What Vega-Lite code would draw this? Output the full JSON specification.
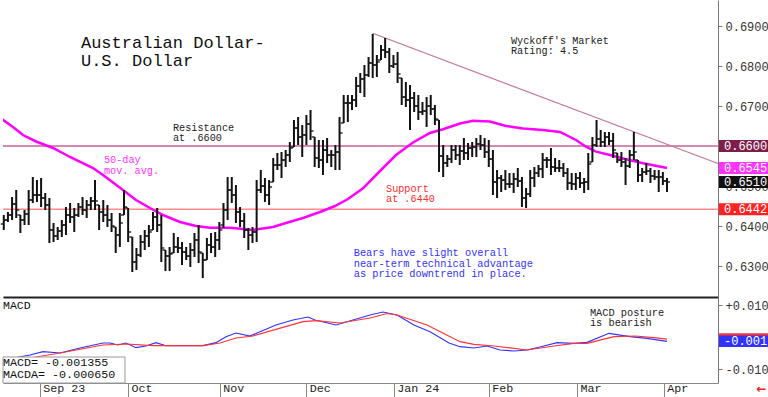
{
"$schema":"https://vega.github.io/schema/vega-lite/v6.json",
"padding":0,"spacing":0,"background":"white",
"config":{"view":{"stroke":null},"font":"Liberation Mono","axis":{"labelFont":"Liberation Mono","grid":false,"title":null,"labelOverlap":false,"labelFlush":false,"labelBound":false},"text":{"font":"Liberation Mono"}},
"datasets":{
"bars":[
{"i":0,"h":0.64275,"l":0.639,"o":0.6405,"c":0.6415},{"i":1,"h":0.6435,"l":0.641,"o":0.6415,"c":0.64275},{"i":2,"h":0.64725,"l":0.6415,"o":0.64275,"c":0.6455},{"i":3,"h":0.649,"l":0.642,"o":0.6455,"c":0.644},{"i":4,"h":0.64275,"l":0.63825,"o":0.64275,"c":0.6415},{"i":5,"h":0.644,"l":0.64025,"o":0.6415,"c":0.643},{"i":6,"h":0.649,"l":0.64025,"o":0.643,"c":0.6465},{"i":7,"h":0.65225,"l":0.64575,"o":0.6465,"c":0.64775},{"i":8,"h":0.6515,"l":0.646,"o":0.64775,"c":0.64775},{"i":9,"h":0.652,"l":0.64475,"o":0.64775,"c":0.647},
{"i":10,"h":0.64825,"l":0.644,"o":0.647,"c":0.64525},{"i":11,"h":0.647,"l":0.63575,"o":0.64525,"c":0.639},{"i":12,"h":0.64075,"l":0.636,"o":0.639,"c":0.6375},{"i":13,"h":0.63975,"l":0.6365,"o":0.6375,"c":0.63875},{"i":14,"h":0.6415,"l":0.63725,"o":0.63875,"c":0.64025},{"i":15,"h":0.64475,"l":0.63775,"o":0.64025,"c":0.64275},{"i":16,"h":0.64575,"l":0.64075,"o":0.64275,"c":0.64225},{"i":17,"h":0.6445,"l":0.6385,"o":0.64225,"c":0.64275},{"i":18,"h":0.64575,"l":0.64225,"o":0.64275,"c":0.64475},{"i":19,"h":0.64725,"l":0.64275,"o":0.64475,"c":0.644},
{"i":20,"h":0.6465,"l":0.642,"o":0.644,"c":0.64525},{"i":21,"h":0.64725,"l":0.644,"o":0.64525,"c":0.64625},{"i":22,"h":0.6515,"l":0.644,"o":0.64625,"c":0.64625},{"i":23,"h":0.64525,"l":0.639,"o":0.64525,"c":0.6435},{"i":24,"h":0.6465,"l":0.641,"o":0.6435,"c":0.64275},{"i":25,"h":0.64525,"l":0.63975,"o":0.64275,"c":0.6415},{"i":26,"h":0.64325,"l":0.6385,"o":0.6415,"c":0.64},{"i":27,"h":0.63975,"l":0.63325,"o":0.63975,"c":0.63775},{"i":28,"h":0.64325,"l":0.63475,"o":0.63775,"c":0.64075},{"i":29,"h":0.649,"l":0.64275,"o":0.64275,"c":0.64475},
{"i":30,"h":0.6445,"l":0.636,"o":0.6445,"c":0.6385},{"i":31,"h":0.63725,"l":0.6285,"o":0.63725,"c":0.631},{"i":32,"h":0.6345,"l":0.629,"o":0.631,"c":0.63275},{"i":33,"h":0.63775,"l":0.63225,"o":0.63275,"c":0.636},{"i":34,"h":0.639,"l":0.634,"o":0.636,"c":0.6375},{"i":35,"h":0.64025,"l":0.63475,"o":0.6375,"c":0.6385},{"i":36,"h":0.6435,"l":0.639,"o":0.639,"c":0.64225},{"i":37,"h":0.6445,"l":0.6385,"o":0.64225,"c":0.64025},{"i":38,"h":0.64275,"l":0.631,"o":0.64025,"c":0.6345},{"i":39,"h":0.634,"l":0.62875,"o":0.634,"c":0.6325},
{"i":40,"h":0.63475,"l":0.62875,"o":0.6325,"c":0.633},{"i":41,"h":0.63825,"l":0.63325,"o":0.63325,"c":0.63475},{"i":42,"h":0.63725,"l":0.63325,"o":0.63475,"c":0.6345},{"i":43,"h":0.636,"l":0.63025,"o":0.6345,"c":0.6335},{"i":44,"h":0.63475,"l":0.6315,"o":0.6335,"c":0.6325},{"i":45,"h":0.63575,"l":0.62975,"o":0.6325,"c":0.634},{"i":46,"h":0.63825,"l":0.63225,"o":0.634,"c":0.6365},{"i":47,"h":0.64025,"l":0.63075,"o":0.6365,"c":0.6335},{"i":48,"h":0.63325,"l":0.627,"o":0.63325,"c":0.6315},{"i":49,"h":0.637,"l":0.6315,"o":0.6315,"c":0.63525},
{"i":50,"h":0.63825,"l":0.63325,"o":0.63525,"c":0.63475},{"i":51,"h":0.6385,"l":0.63225,"o":0.63475,"c":0.6365},{"i":52,"h":0.641,"l":0.634,"o":0.6365,"c":0.639},{"i":53,"h":0.64575,"l":0.6395,"o":0.64025,"c":0.644},{"i":54,"h":0.65225,"l":0.6415,"o":0.644,"c":0.649},{"i":55,"h":0.65225,"l":0.64575,"o":0.649,"c":0.64775},{"i":56,"h":0.65025,"l":0.64075,"o":0.64775,"c":0.6435},{"i":57,"h":0.64475,"l":0.63975,"o":0.6435,"c":0.64125},{"i":58,"h":0.64325,"l":0.637,"o":0.64125,"c":0.639},{"i":59,"h":0.6395,"l":0.634,"o":0.639,"c":0.63775},
{"i":60,"h":0.63975,"l":0.63575,"o":0.63775,"c":0.6385},{"i":61,"h":0.6515,"l":0.636,"o":0.6385,"c":0.649},{"i":62,"h":0.654,"l":0.64825,"o":0.649,"c":0.65},{"i":63,"h":0.652,"l":0.646,"o":0.65,"c":0.64775},{"i":64,"h":0.6515,"l":0.64525,"o":0.64775,"c":0.64975},{"i":65,"h":0.657,"l":0.651,"o":0.651,"c":0.65525},{"i":66,"h":0.65825,"l":0.654,"o":0.65525,"c":0.65525},{"i":67,"h":0.6585,"l":0.652,"o":0.65525,"c":0.6565},{"i":68,"h":0.659,"l":0.65475,"o":0.6565,"c":0.65775},{"i":69,"h":0.661,"l":0.656,"o":0.65775,"c":0.6595},
{"i":70,"h":0.6665,"l":0.65975,"o":0.65975,"c":0.6645},{"i":71,"h":0.66725,"l":0.66025,"o":0.6645,"c":0.66225},{"i":72,"h":0.66525,"l":0.65725,"o":0.66225,"c":0.66275},{"i":73,"h":0.66775,"l":0.66025,"o":0.66275,"c":0.6655},{"i":74,"h":0.669,"l":0.6615,"o":0.6655,"c":0.66375},{"i":75,"h":0.66225,"l":0.65475,"o":0.66225,"c":0.657},{"i":76,"h":0.6615,"l":0.6545,"o":0.657,"c":0.6565},{"i":77,"h":0.6615,"l":0.65275,"o":0.6565,"c":0.659},{"i":78,"h":0.662,"l":0.65575,"o":0.659,"c":0.65775},{"i":79,"h":0.659,"l":0.65475,"o":0.65775,"c":0.65775},
{"i":80,"h":0.66025,"l":0.654,"o":0.65775,"c":0.6585},{"i":81,"h":0.66725,"l":0.654,"o":0.6585,"c":0.66325},{"i":82,"h":0.67275,"l":0.66575,"o":0.66575,"c":0.67075},{"i":83,"h":0.67275,"l":0.666,"o":0.67075,"c":0.67075},{"i":84,"h":0.67275,"l":0.669,"o":0.67075,"c":0.6715},{"i":85,"h":0.67725,"l":0.66975,"o":0.6715,"c":0.675},{"i":86,"h":0.67825,"l":0.67325,"o":0.675,"c":0.67675},{"i":87,"h":0.68025,"l":0.67225,"o":0.67675,"c":0.67775},{"i":88,"h":0.68225,"l":0.67725,"o":0.67775,"c":0.68075},{"i":89,"h":0.688,"l":0.677,"o":0.68075,"c":0.68025},
{"i":90,"h":0.68275,"l":0.67725,"o":0.68025,"c":0.681},{"i":91,"h":0.68525,"l":0.6815,"o":0.6815,"c":0.684},{"i":92,"h":0.687,"l":0.682,"o":0.684,"c":0.6835},{"i":93,"h":0.6845,"l":0.67825,"o":0.6835,"c":0.68},{"i":94,"h":0.68275,"l":0.6795,"o":0.68,"c":0.6805},{"i":95,"h":0.6835,"l":0.67575,"o":0.6805,"c":0.678},{"i":96,"h":0.677,"l":0.67025,"o":0.677,"c":0.67225},{"i":97,"h":0.676,"l":0.66975,"o":0.67225,"c":0.6715},{"i":98,"h":0.67525,"l":0.664,"o":0.6715,"c":0.672},{"i":99,"h":0.6735,"l":0.6685,"o":0.672,"c":0.67},
{"i":100,"h":0.67275,"l":0.6665,"o":0.67,"c":0.6685},{"i":101,"h":0.671,"l":0.66775,"o":0.6685,"c":0.66875},{"i":102,"h":0.67225,"l":0.66475,"o":0.66875,"c":0.67},{"i":103,"h":0.67275,"l":0.66775,"o":0.67,"c":0.66925},{"i":104,"h":0.67025,"l":0.66525,"o":0.66925,"c":0.66675},{"i":105,"h":0.6665,"l":0.6535,"o":0.6665,"c":0.6575},{"i":106,"h":0.66025,"l":0.65225,"o":0.6575,"c":0.65575},{"i":107,"h":0.65775,"l":0.65475,"o":0.65575,"c":0.65675},{"i":108,"h":0.66025,"l":0.65575,"o":0.65675,"c":0.659},{"i":109,"h":0.66025,"l":0.6565,"o":0.659,"c":0.65775},
{"i":110,"h":0.66025,"l":0.65525,"o":0.65775,"c":0.65875},{"i":111,"h":0.662,"l":0.6565,"o":0.65875,"c":0.65825},{"i":112,"h":0.66075,"l":0.6565,"o":0.65825,"c":0.6595},{"i":113,"h":0.661,"l":0.65725,"o":0.6595,"c":0.65975},{"i":114,"h":0.662,"l":0.65725,"o":0.65975,"c":0.6605},{"i":115,"h":0.66275,"l":0.659,"o":0.6605,"c":0.66025},{"i":116,"h":0.662,"l":0.657,"o":0.66025,"c":0.6585},{"i":117,"h":0.6615,"l":0.65475,"o":0.6585,"c":0.65675},{"i":118,"h":0.659,"l":0.64775,"o":0.65675,"c":0.651},{"i":119,"h":0.654,"l":0.647,"o":0.651,"c":0.652},
{"i":120,"h":0.65275,"l":0.6485,"o":0.652,"c":0.6515},{"i":121,"h":0.654,"l":0.649,"o":0.6515,"c":0.6505},{"i":122,"h":0.65325,"l":0.6495,"o":0.6505,"c":0.6505},{"i":123,"h":0.65325,"l":0.64825,"o":0.6505,"c":0.65175},{"i":124,"h":0.6545,"l":0.64975,"o":0.65175,"c":0.65125},{"i":125,"h":0.65225,"l":0.64475,"o":0.65125,"c":0.647},{"i":126,"h":0.6495,"l":0.6445,"o":0.647,"c":0.648},{"i":127,"h":0.654,"l":0.64725,"o":0.648,"c":0.652},{"i":128,"h":0.65475,"l":0.64975,"o":0.652,"c":0.65325},{"i":129,"h":0.65525,"l":0.65225,"o":0.65325,"c":0.65425},
{"i":130,"h":0.65825,"l":0.652,"o":0.65425,"c":0.6565},{"i":131,"h":0.65725,"l":0.6545,"o":0.6565,"c":0.6565},{"i":132,"h":0.6595,"l":0.65275,"o":0.6565,"c":0.65475},{"i":133,"h":0.657,"l":0.6535,"o":0.65475,"c":0.6545},{"i":134,"h":0.6565,"l":0.6535,"o":0.6545,"c":0.6545},{"i":135,"h":0.65575,"l":0.65225,"o":0.6545,"c":0.65325},{"i":136,"h":0.6545,"l":0.649,"o":0.65325,"c":0.65075},{"i":137,"h":0.65325,"l":0.649,"o":0.65075,"c":0.6505},{"i":138,"h":0.65325,"l":0.649,"o":0.6505,"c":0.652},{"i":139,"h":0.6535,"l":0.6495,"o":0.652,"c":0.65075},
{"i":140,"h":0.652,"l":0.64825,"o":0.65075,"c":0.651},{"i":141,"h":0.65825,"l":0.649,"o":0.651,"c":0.6555},{"i":142,"h":0.66225,"l":0.656,"o":0.656,"c":0.66025},{"i":143,"h":0.6665,"l":0.65975,"o":0.66025,"c":0.66175},{"i":144,"h":0.664,"l":0.65975,"o":0.66175,"c":0.661},{"i":145,"h":0.6635,"l":0.65975,"o":0.661,"c":0.66225},{"i":146,"h":0.6635,"l":0.66025,"o":0.66225,"c":0.66125},{"i":147,"h":0.66325,"l":0.657,"o":0.66125,"c":0.659},{"i":148,"h":0.65825,"l":0.65575,"o":0.65825,"c":0.6565},{"i":149,"h":0.6585,"l":0.65475,"o":0.6565,"c":0.656},
{"i":150,"h":0.657,"l":0.65025,"o":0.656,"c":0.655},{"i":151,"h":0.659,"l":0.6545,"o":0.655,"c":0.65775},{"i":152,"h":0.6635,"l":0.6565,"o":0.65775,"c":0.6585},{"i":153,"h":0.6565,"l":0.651,"o":0.6565,"c":0.65275},{"i":154,"h":0.6545,"l":0.651,"o":0.65275,"c":0.6535},{"i":155,"h":0.65575,"l":0.65275,"o":0.6535,"c":0.65375},{"i":156,"h":0.6545,"l":0.65075,"o":0.65375,"c":0.6525},{"i":157,"h":0.654,"l":0.6515,"o":0.6525,"c":0.65225},{"i":158,"h":0.654,"l":0.6485,"o":0.65225,"c":0.65225},{"i":159,"h":0.6535,"l":0.65025,"o":0.65225,"c":0.65125},
{"i":160,"h":0.652,"l":0.6485,"o":0.65125,"c":0.651}
],
"ma":[
{"i":-1.5,"p":0.6675},{"i":2.22,"p":0.66475},{"i":4.63,"p":0.66275},{"i":7.77,"p":0.66113},{"i":11.87,"p":0.6595},{"i":15.97,"p":0.65725},{"i":21.52,"p":0.6545},{"i":23.93,"p":0.65275},{"i":28.76,"p":0.649},{"i":31.89,"p":0.6465},{"i":35.27,"p":0.6445},{"i":38.41,"p":0.64275},{"i":42.51,"p":0.641},{"i":46.37,"p":0.64},{"i":49.75,"p":0.63958},{"i":54.57,"p":0.63958},{"i":57.71,"p":0.63925},{"i":60.12,"p":0.639},{"i":64.95,"p":0.63975},{"i":68.08,"p":0.64075},{"i":72.18,"p":0.642},{"i":76.29,"p":0.6435},{"i":79.9,"p":0.645},{"i":83.04,"p":0.64675},{"i":86.66,"p":0.64943},{"i":90.76,"p":0.65375},{"i":94.62,"p":0.65775},{"i":98.72,"p":0.66088},{"i":102.82,"p":0.66325},{"i":105.96,"p":0.66418},{"i":110.06,"p":0.66563},{"i":113.2,"p":0.66633},{"i":117.3,"p":0.66613},{"i":121.16,"p":0.665},{"i":125.26,"p":0.66438},{"i":130.08,"p":0.664},{"i":134.19,"p":0.6635},{"i":138.05,"p":0.6615},{"i":140.46,"p":0.65983},{"i":142.87,"p":0.65858},{"i":146.25,"p":0.65775},{"i":150.11,"p":0.65668},{"i":154.21,"p":0.65568},{"i":160,"p":0.6545}
],
"macd":[
{"s":"MACD","i":-0.19,"v":-0.00719},{"s":"MACD","i":6.32,"v":-0.00563},{"s":"MACD","i":9.46,"v":-0.00459},{"s":"MACD","i":13.56,"v":-0.005},{"s":"MACD","i":18.38,"v":-0.00344},{"s":"MACD","i":23.93,"v":-0.00188},{"s":"MACD","i":25.62,"v":-0.00188},{"s":"MACD","i":27.55,"v":-0.0025},{"s":"MACD","i":29.48,"v":-0.00188},{"s":"MACD","i":31.89,"v":-0.00334},{"s":"MACD","i":34.31,"v":-0.00281},{"s":"MACD","i":36.72,"v":-0.00178},{"s":"MACD","i":39.13,"v":-0.00272},{"s":"MACD","i":43.96,"v":-0.00272},{"s":"MACD","i":48.06,"v":-0.00272},{"s":"MACD","i":51.19,"v":-0.00178},{"s":"MACD","i":53.61,"v":0.00009},{"s":"MACD","i":56.02,"v":0.00125},{"s":"MACD","i":59.4,"v":0.00031},{"s":"MACD","i":61.81,"v":0.00166},{"s":"MACD","i":65.67,"v":0.00375},{"s":"MACD","i":69.77,"v":0.00531},{"s":"MACD","i":73.39,"v":0.00625},{"s":"MACD","i":75.08,"v":0.00531},{"s":"MACD","i":80.14,"v":0.00375},{"s":"MACD","i":84.25,"v":0.00531},{"s":"MACD","i":88.35,"v":0.00688},{"s":"MACD","i":91.48,"v":0.00781},{"s":"MACD","i":94.86,"v":0.00688},{"s":"MACD","i":98.96,"v":0.00375},{"s":"MACD","i":102.82,"v":0.00166},{"s":"MACD","i":107.41,"v":-0.00188},{"s":"MACD","i":110.06,"v":-0.00303},{"s":"MACD","i":113.44,"v":-0.00344},{"s":"MACD","i":116.57,"v":-0.00281},{"s":"MACD","i":119.71,"v":-0.00406},{"s":"MACD","i":123.09,"v":-0.00438},{"s":"MACD","i":126.22,"v":-0.00406},{"s":"MACD","i":130.33,"v":-0.00281},{"s":"MACD","i":133.46,"v":-0.00178},{"s":"MACD","i":137.56,"v":-0.00197},{"s":"MACD","i":140.7,"v":-0.00166},{"s":"MACD","i":146.01,"v":0.00116},{"s":"MACD","i":151.07,"v":0.00009},{"s":"MACD","i":155.18,"v":-0.00041},{"s":"MACD","i":160,"v":-0.001355},
{"s":"MACDA","i":-0.19,"v":-0.00781},{"s":"MACDA","i":6.32,"v":-0.00656},{"s":"MACDA","i":13.56,"v":-0.005},{"s":"MACDA","i":23.93,"v":-0.0025},{"s":"MACDA","i":29.48,"v":-0.00219},{"s":"MACDA","i":36,"v":-0.00272},{"s":"MACDA","i":48.06,"v":-0.00272},{"s":"MACDA","i":52.16,"v":-0.00188},{"s":"MACDA","i":56.02,"v":-0.00031},{"s":"MACDA","i":60.12,"v":0.00031},{"s":"MACDA","i":72.18,"v":0.00478},{"s":"MACDA","i":75.32,"v":0.00509},{"s":"MACDA","i":81.11,"v":0.00438},{"s":"MACDA","i":88.35,"v":0.00594},{"s":"MACDA","i":92.45,"v":0.00734},{"s":"MACDA","i":94.86,"v":0.00688},{"s":"MACDA","i":102.1,"v":0.00375},{"s":"MACDA","i":110.06,"v":-0.00147},{"s":"MACDA","i":113.44,"v":-0.00228},{"s":"MACDA","i":118.26,"v":-0.00281},{"s":"MACDA","i":126.22,"v":-0.00406},{"s":"MACDA","i":132.74,"v":-0.00281},{"s":"MACDA","i":137.56,"v":-0.00197},{"s":"MACDA","i":140.7,"v":-0.00197},{"s":"MACDA","i":147.21,"v":0.00009},{"s":"MACDA","i":152.28,"v":0.00031},{"s":"MACDA","i":156.86,"v":-0.00022},{"s":"MACDA","i":160,"v":-0.00065}
]
},
"vconcat":[
{"width":715,"height":297,
 "resolve":{"scale":{"color":"independent"}},
 "layer":[
  {"data":{"values":[{"name":"resistance","v":0.66},{"name":"support","v":0.6442}]},
   "mark":{"type":"rule","strokeWidth":1.5},
   "encoding":{
    "y":{"field":"v","type":"quantitative","scale":{"domain":[0.62225,0.6965],"zero":false,"nice":false},
      "axis":{"orient":"right","values":[0.63,0.64,0.65,0.66,0.67,0.68,0.69],"format":".4f","tickSize":4,"tickColor":"#777","domainColor":"#777","labelFontSize":12,"labelColor":"#333","labelPadding":3,"labelBaseline":"middle"}},
    "color":{"field":"name","type":"nominal","scale":{"domain":["resistance","support"],"range":["#c8609a","#ff8a8a"]},"legend":null}}},
  {"data":{"values":[{"i":89,"p":0.68818},{"i":172.3,"p":0.65562}]},
   "mark":{"type":"line","strokeWidth":1.2,"color":"#c07898"},
   "encoding":{
    "x":{"field":"i","type":"quantitative","scale":{"domain":[-0.19,172.3],"nice":false,"zero":false},"axis":{"orient":"bottom","labels":false,"ticks":false,"domain":true,"domainColor":"#222","domainWidth":2}},
    "y":{"field":"p","type":"quantitative"}}},
  {"data":{"name":"ma"},
   "mark":{"type":"line","strokeWidth":2.5,"color":"#ff00ff","clip":true},
   "encoding":{"x":{"field":"i","type":"quantitative"},"y":{"field":"p","type":"quantitative"}}},
  {"data":{"name":"bars"},
   "mark":{"type":"rule","strokeWidth":2,"color":"#111"},
   "encoding":{"x":{"field":"i","type":"quantitative"},"y":{"field":"h","type":"quantitative"},"y2":{"field":"l"}}},
  {"data":{"name":"bars"},
   "mark":{"type":"tick","orient":"horizontal","size":3,"thickness":1.3,"xOffset":-1.5,"color":"#111","opacity":1},
   "encoding":{"x":{"field":"i","type":"quantitative"},"y":{"field":"o","type":"quantitative"}}},
  {"data":{"name":"bars"},
   "mark":{"type":"tick","orient":"horizontal","size":3,"thickness":1.3,"xOffset":1.5,"color":"#111","opacity":1},
   "encoding":{"x":{"field":"i","type":"quantitative"},"y":{"field":"c","type":"quantitative"}}},
  {"data":{"values":[{"i":18.62,"p":0.6845,"t":"Australian Dollar-\nU.S. Dollar"}]},
   "mark":{"type":"text","align":"left","baseline":"alphabetic","fontSize":17,"lineHeight":18,"lineBreak":"\n","color":"#111"},
   "encoding":{"x":{"field":"i","type":"quantitative"},"y":{"field":"p","type":"quantitative"},"text":{"field":"t"}}},
  {"data":{"values":[{"i":40.82,"p":0.66375,"t":"Resistance\nat .6600"},{"i":122.36,"p":0.6855,"t":"Wyckoff's Market\nRating: 4.5"}]},
   "mark":{"type":"text","align":"left","baseline":"alphabetic","fontSize":10.2,"lineHeight":10,"lineBreak":"\n","color":"#222"},
   "encoding":{"x":{"field":"i","type":"quantitative"},"y":{"field":"p","type":"quantitative"},"text":{"field":"t"}}},
  {"data":{"values":[{"i":24.17,"p":0.65563,"t":"50-day\nmov. avg."}]},
   "mark":{"type":"text","align":"left","baseline":"alphabetic","fontSize":10.2,"lineHeight":10.5,"lineBreak":"\n","color":"#ff33ff"},
   "encoding":{"x":{"field":"i","type":"quantitative"},"y":{"field":"p","type":"quantitative"},"text":{"field":"t"}}},
  {"data":{"values":[{"i":92.21,"p":0.64838,"t":"Support\nat .6440"}]},
   "mark":{"type":"text","align":"left","baseline":"alphabetic","fontSize":10.2,"lineHeight":10,"lineBreak":"\n","color":"#ff2a2a"},
   "encoding":{"x":{"field":"i","type":"quantitative"},"y":{"field":"p","type":"quantitative"},"text":{"field":"t"}}},
  {"data":{"values":[{"i":84.42,"p":0.6325,"t":"Bears have slight overall\nnear-term technical advantage\nas price downtrend in place."}]},
   "mark":{"type":"text","align":"left","baseline":"alphabetic","fontSize":10.3,"lineHeight":10.5,"lineBreak":"\n","color":"#3333ff"},
   "encoding":{"x":{"field":"i","type":"quantitative"},"y":{"field":"p","type":"quantitative"},"text":{"field":"t"}}},
  {"data":{"values":[{"v":0.66,"lab":"0.6600"},{"v":0.6545,"lab":"0.6545"},{"v":0.651,"lab":"0.6510"},{"v":0.6442,"lab":"0.6442"}]},
   "mark":{"type":"tick","orient":"horizontal","size":52,"thickness":12,"opacity":1},
   "encoding":{"x":{"datum":178.8,"type":"quantitative"},"y":{"field":"v","type":"quantitative"},
     "color":{"field":"lab","type":"nominal","scale":{"domain":["0.6600","0.6545","0.6510","0.6442"],"range":["#7d1f4a","#ff33ff","#111111","#ff2222"]},"legend":null}}},
  {"data":{"values":[{"v":0.66,"lab":"0.6600"},{"v":0.6545,"lab":"0.6545"},{"v":0.651,"lab":"0.6510"},{"v":0.6442,"lab":"0.6442"}]},
   "mark":{"type":"text","align":"left","baseline":"middle","fontSize":12,"color":"white"},
   "encoding":{"x":{"datum":173.75,"type":"quantitative"},"y":{"field":"v","type":"quantitative"},"text":{"field":"lab"}}}
 ]},
{"width":715,"height":86,
 "layer":[
  {"data":{"name":"macd"},
   "mark":{"type":"line","strokeWidth":1.2},
   "encoding":{
    "x":{"field":"i","type":"quantitative","scale":{"domain":[-0.19,172.3],"nice":false,"zero":false},
      "axis":{"orient":"bottom","values":[8.66,29.96,52.09,72.98,94.06,116.98,138.29,159.2],
        "labelExpr":"datum.value < 20 ? 'Sep 23' : datum.value < 40 ? 'Oct' : datum.value < 60 ? 'Nov' : datum.value < 80 ? 'Dec' : datum.value < 100 ? 'Jan 24' : datum.value < 125 ? 'Feb' : datum.value < 145 ? 'Mar' : 'Apr'",
        "tickSize":14,"tickColor":"#888","domainColor":"#888","labelAlign":"left","labelBaseline":"middle","labelPadding":-10,"labelOffset":3,"labelFontSize":11.7,"labelColor":"#222"}},
    "y":{"field":"v","type":"quantitative","scale":{"domain":[-0.014375,0.0125],"zero":false,"nice":false},
      "axis":{"orient":"right","values":[-0.01,-0.005,0,0.005,0.01],"labelExpr":"datum.value > 0.009 ? '+0.010' : datum.value < -0.009 ? '-0.010' : ''","tickSize":4,"tickColor":"#777","domainColor":"#777","labelFontSize":12,"labelColor":"#333","labelPadding":3,"labelBaseline":"middle"}},
    "color":{"field":"s","type":"nominal","scale":{"domain":["MACD","MACDA"],"range":["#3333ff","#ff3333"]},"legend":null}}},
  {"data":{"values":[{}]},
   "mark":{"type":"rect","fill":"white","stroke":"#999","strokeWidth":1},
   "encoding":{"x":{"datum":-0.19,"type":"quantitative"},"x2":{"datum":29.24},"y":{"datum":-0.00625,"type":"quantitative"},"y2":{"datum":-0.014375}}},
  {"data":{"values":[{"i":-0.19,"v":-0.009063,"t":"MACD=  -0.001355\nMACDA= -0.000650"}]},
   "mark":{"type":"text","align":"left","baseline":"alphabetic","fontSize":11.7,"lineHeight":12,"lineBreak":"\n","color":"#111"},
   "encoding":{"x":{"field":"i","type":"quantitative"},"y":{"field":"v","type":"quantitative"},"text":{"field":"t"}}},
  {"data":{"values":[{"i":-0.19,"v":0.00875,"t":"MACD"}]},
   "mark":{"type":"text","align":"left","baseline":"alphabetic","fontSize":11.5,"color":"#111"},
   "encoding":{"x":{"field":"i","type":"quantitative"},"y":{"field":"v","type":"quantitative"},"text":{"field":"t"}}},
  {"data":{"values":[{"i":141.4,"v":0.006563,"t":"MACD posture\n is bearish"}]},
   "mark":{"type":"text","align":"left","baseline":"alphabetic","fontSize":10.3,"lineHeight":10,"lineBreak":"\n","color":"#222"},
   "encoding":{"x":{"field":"i","type":"quantitative"},"y":{"field":"v","type":"quantitative"},"text":{"field":"t"}}},
  {"data":{"values":[{"s":"MACDA","v":-0.00065},{"s":"MACD","v":-0.001355}]},
   "mark":{"type":"tick","orient":"horizontal","size":52,"thickness":11.5,"opacity":1},
   "encoding":{"x":{"datum":178.8,"type":"quantitative"},"y":{"field":"v","type":"quantitative"},"color":{"field":"s","type":"nominal","legend":null}}},
  {"data":{"values":[{"v":-0.001355,"t":"-0.001"}]},
   "mark":{"type":"text","align":"left","baseline":"middle","fontSize":12,"color":"white"},
   "encoding":{"x":{"datum":173.75,"type":"quantitative"},"y":{"field":"v","type":"quantitative"},"text":{"field":"t"}}},
  {"data":{"values":[{"i":182.8,"v":-0.01625,"t":"←"}]},
   "mark":{"type":"text","align":"center","baseline":"middle","fontSize":12,"fontWeight":"bold","font":"DejaVu Sans","color":"#ff2020"},
   "encoding":{"x":{"field":"i","type":"quantitative"},"y":{"field":"v","type":"quantitative"},"text":{"field":"t"}}}
 ]}
]
}
